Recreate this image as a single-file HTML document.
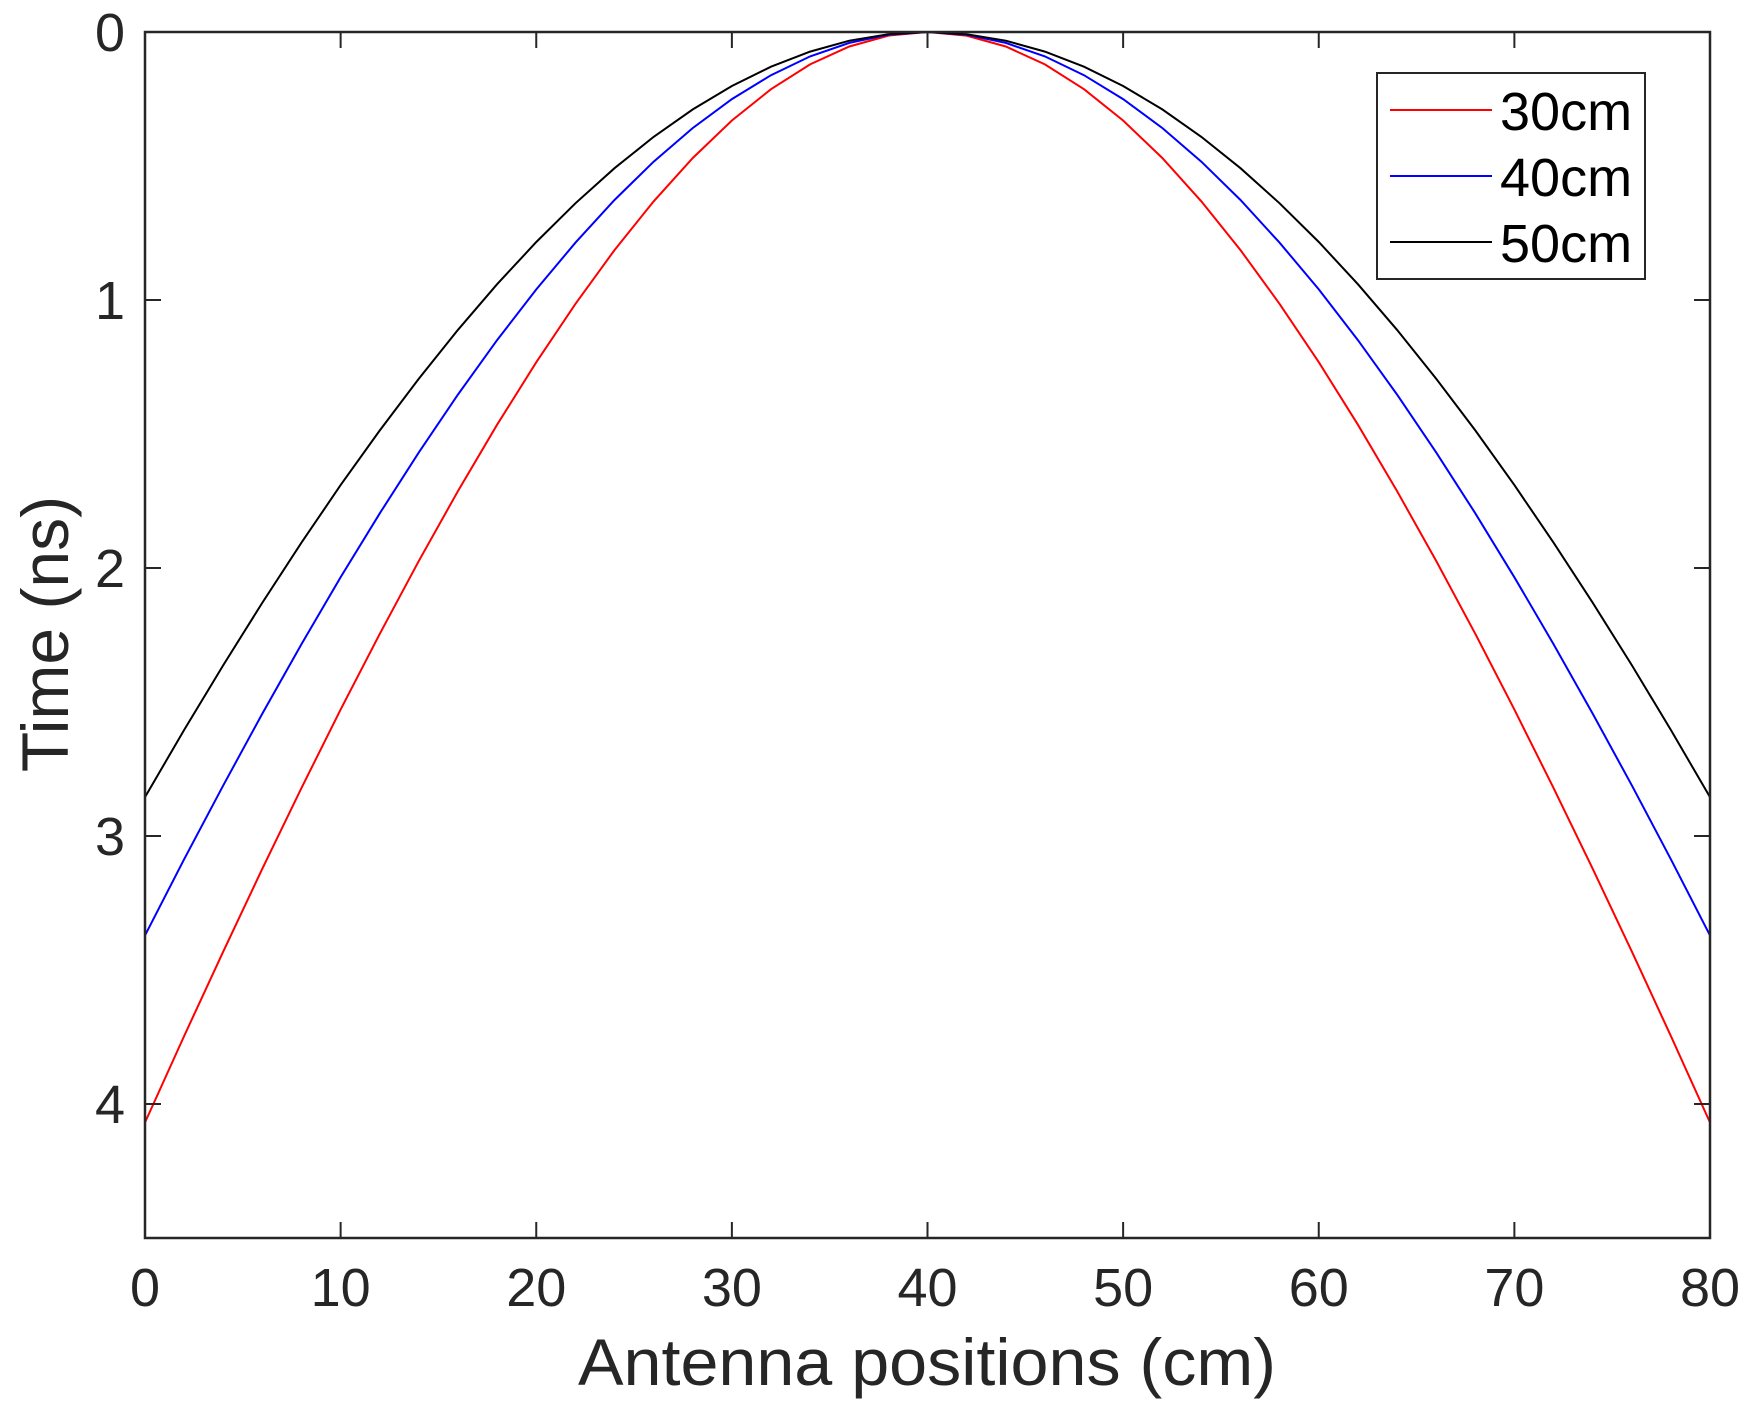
<!DOCTYPE html>
<html><head><meta charset="utf-8"><style>html,body{margin:0;padding:0;background:#fff}svg{display:block}</style></head>
<body>
<svg id="s" width="1754" height="1418" xmlns="http://www.w3.org/2000/svg" font-family="Liberation Sans, Arial, sans-serif" fill="#262626">
<rect width="1754" height="1418" fill="#fff"/>
<g id="curves" fill="none" stroke-width="2"></g>
<g stroke="#262626" stroke-width="2.5" fill="none">
<rect x="145" y="32" width="1565" height="1206"/>
</g>
<g id="ticks" stroke="#262626" stroke-width="2"></g>
<g id="labels" font-size="54"></g>
<text x="927" y="1385" font-size="66" text-anchor="middle" textLength="698" lengthAdjust="spacingAndGlyphs">Antenna positions (cm)</text>
<text transform="translate(68,634) rotate(-90)" font-size="66" text-anchor="middle">Time (ns)</text>
<g>
<rect x="1377" y="73" width="268" height="206" fill="#fff" stroke="#262626" stroke-width="2"/>
<line x1="1390" y1="110" x2="1492" y2="110" stroke="#ff0000" stroke-width="2"/>
<line x1="1390" y1="176" x2="1492" y2="176" stroke="#0000ff" stroke-width="2"/>
<line x1="1390" y1="242" x2="1492" y2="242" stroke="#000" stroke-width="2"/>
<text x="1500" y="130" font-size="54" fill="#000">30cm</text>
<text x="1500" y="196" font-size="54" fill="#000">40cm</text>
<text x="1500" y="262" font-size="54" fill="#000">50cm</text>
</g>
</svg>
<script>
var L=145,R=1710,T=32,B=1238,ns="http://www.w3.org/2000/svg";
function X(v){return L+(R-L)*v/80}function Y(v){return T+(B-T)*v/4.5}
var c=document.getElementById('curves'),tk=document.getElementById('ticks'),lb=document.getElementById('labels');
[[30,'#ff0000'],[40,'#0000ff'],[50,'#000000']].forEach(function(a){var d=a[0],p=[];
for(var x=0;x<=80;x+=2){var o=x-40;var t=2*(Math.sqrt(d*d+o*o)-d)/9.83;p.push(X(x).toFixed(1)+','+Y(t).toFixed(1));}
var pl=document.createElementNS(ns,'polyline');pl.setAttribute('points',p.join(' '));pl.setAttribute('stroke',a[1]);c.appendChild(pl);});
function ln(a,b,c2,d){var l=document.createElementNS(ns,'line');l.setAttribute('x1',a);l.setAttribute('y1',b);l.setAttribute('x2',c2);l.setAttribute('y2',d);tk.appendChild(l);}
function tx(x,y,s,anc){var t=document.createElementNS(ns,'text');t.setAttribute('x',x);t.setAttribute('y',y);t.setAttribute('text-anchor',anc);t.textContent=s;lb.appendChild(t);}
for(var i=0;i<=80;i+=10){var x=X(i);ln(x,B,x,B-16);ln(x,T,x,T+16);tx(x,1306,i,'middle');}
for(var j=0;j<=4;j++){var y=Y(j);ln(L,y,L+16,y);ln(R,y,R-16,y);tx(125,y+19,j,'end');}
</script>
</body></html>
